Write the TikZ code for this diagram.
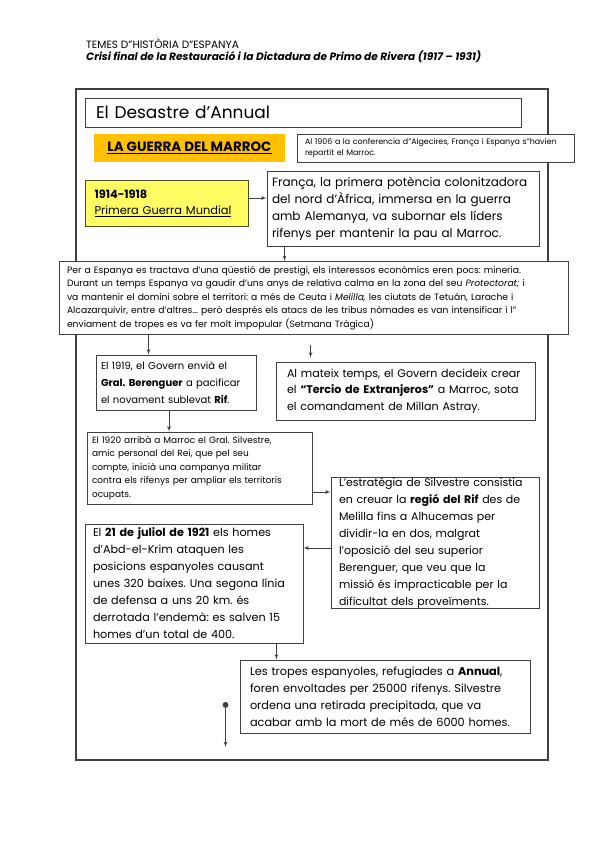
\documentclass[tikz,border=0pt]{standalone}
\usepackage{fontspec}
\setmainfont{Poppins}
\usepackage{tikz}
\usetikzlibrary{shapes, arrows}
\definecolor{orangebox}{RGB}{255,192,0}
\definecolor{yellowbox}{RGB}{255,252,100}
\definecolor{boxline}{RGB}{64,64,64}
\tikzstyle{infobox} = [rectangle, draw=boxline, line width=0.9pt, fill=white, align=left, inner ysep=0pt]
\tikzstyle{datebox} = [rectangle, draw=black!70!yellowbox, line width=0.9pt, fill=yellowbox, align=left, inner ysep=0pt]
\tikzstyle{headline} = [anchor=west, inner sep=0pt]
\tikzstyle{line} = [draw=boxline, -latex', line width=0.8pt]
\frenchspacing

\begin{document}
\begin{tikzpicture}[x=1pt, y=-1pt]
  \fill [white] (0,0) rectangle (599,848);
  \useasboundingbox (0,0) rectangle (599,848);
  %% header
  \node [headline, font=\fontsize{10.6}{12}\selectfont] (temes) at (86,44) {TEMES D"HISTÒRIA D"ESPANYA};
  \node [headline, font=\fontsize{10.6}{12}\selectfont\bfseries\itshape] (crisi) at (86,57) {Crisi final de la Restauració i la Dictadura de Primo de Rivera (1917 – 1931)};
  % outer frame
  \draw [boxline, line width=1.3pt] (76,89) rectangle (548,760);
  %% nodes
  % title and topic
  \node [infobox, inner xsep=11pt, text width=414pt, minimum height=29pt, font=\fontsize{17}{20}\selectfont] (desastre) at (303,112.5) {El Desastre d’Annual};
  \node [rectangle, fill=orangebox, minimum width=191pt, minimum height=28pt, font=\fontsize{13.5}{16}\selectfont\bfseries] (guerra) at (189.5,148) {\underline{LA GUERRA DEL MARROC}};
  \node [infobox, inner xsep=8pt, text width=261pt, minimum height=28pt, font=\fontsize{7.9}{11}\selectfont] (algecires) at (435.5,148) {Al 1906 a la conferencia d"Algecires, França i Espanya s"havien\\ repartit el Marroc.};
  % first world war
  \node [datebox, inner xsep=9pt, text width=145pt, minimum height=46pt, font=\fontsize{11.4}{16}\selectfont] (guerra1914) at (167,203) {\textbf{1914-1918}\\ \underline{Primera Guerra Mundial}};
  \node [infobox, inner xsep=5pt, text width=262pt, minimum height=75pt, font=\fontsize{12}{17}\selectfont] (franca) at (403,208.5) {França, la primera potència colonitzadora\\ del nord d’Àfrica, immersa en la guerra\\ amb Alemanya, va subornar els líders\\ rifenys per mantenir la pau al Marroc.};
  % protectorate
  \node [infobox, inner xsep=8pt, text width=493pt, minimum height=73pt, font=\fontsize{9.2}{13.5}\selectfont] (espanya) at (313.5,298) {Per a Espanya es tractava d'una qüestió de prestigi, els interessos econòmics eren pocs: mineria.\\ Durant un temps Espanya  va gaudir d'uns anys de relativa calma en la zona del seu \textit{Protectorat;} i\\ va mantenir el domini sobre el territori: a més de Ceuta i \textit{Melilla,} les ciutats de Tetuán, Larache i\\ Alcazarquivir, entre d'altres... però després els atacs de les tribus nòmades es van intensificar i l"\\ enviament de tropes es va fer molt impopular (Setmana Tràgica)};
  % government
  \node [infobox, inner xsep=5pt, text width=150pt, minimum height=55pt, font=\fontsize{10}{17}\selectfont] (govern1919) at (176,382.5) {El 1919, el Govern envià el\\ \textbf{Gral. Berenguer} a pacificar\\ el novament sublevat \textbf{Rif}.};
  \node [infobox, inner xsep=11pt, text width=237pt, minimum height=58pt, font=\fontsize{11.1}{16.5}\selectfont] (tercio) at (405.5,391) {Al mateix temps, el Govern decideix crear\\ el \textbf{“Tercio de Extranjeros”} a Marroc, sota\\ el comandament de Millan Astray.};
  % silvestre
  \node [infobox, inner xsep=5pt, text width=215pt, minimum height=72pt, font=\fontsize{9}{13.5}\selectfont] (silvestre1920) at (199.5,468) {El 1920 arribà a Marroc el Gral. Silvestre,\\ amic personal del Rei, que pel seu\\ compte, inicià una campanya militar\\ contra els rifenys per ampliar els territoris\\ ocupats.};
  \node [infobox, inner xsep=8pt, text width=192pt, minimum height=128pt, font=\fontsize{11}{17}\selectfont] (estrategia) at (435,543) {L’estratègia de Silvestre consistia\\ en creuar la \textbf{regió del Rif} des de\\ Melilla fins a Alhucemas per\\ dividir-la en dos, malgrat\\ l’oposició del seu superior\\ Berenguer, que veu que la\\ missió és impracticable per la\\ dificultat dels proveïments.};
  % annual
  \node [infobox, inner xsep=8pt, text width=202pt, minimum height=119pt, font=\fontsize{11.2}{17}\selectfont] (juliol1921) at (194,583.5) {El \textbf{21 de juliol de 1921} els homes\\ d’Abd-el-Krim ataquen les\\ posicions espanyoles causant\\ unes 320 baixes. Una segona línia\\ de defensa a uns 20 km. és\\ derrotada l’endemà: es salven 15\\ homes d’un total de 400.};
  \node [infobox, inner xsep=10pt, text width=270pt, minimum height=73pt, font=\fontsize{11.3}{17}\selectfont] (annual) at (385,696.5) {Les tropes espanyoles, refugiades a \textbf{Annual},\\ foren envoltades per 25000 rifenys. Silvestre\\ ordena una retirada precipitada, que va\\ acabar amb la mort de més de 6000 homes.};
  %% edges
  \coordinate (a1) at ([xshift=18pt]franca.south west);
  \coordinate (a2) at ([xshift=53pt]govern1919.north west);
  \coordinate (a3) at ([xshift=-7pt]govern1919.south);
  \coordinate (a4) at ([yshift=-24pt]silvestre1920.east);
  \coordinate (a5) at ([yshift=-5pt]estrategia.west);
  \coordinate (a6) at ([xshift=-27pt]juliol1921.south east);
  \coordinate (t1) at ([xshift=35pt, yshift=17pt]tercio.north west);
  \coordinate (t2) at ([xshift=35pt, yshift=4pt]tercio.north west);
  \coordinate (dotstart) at ([xshift=-14pt, yshift=-5.5pt]annual.west);
  \coordinate (dotend) at ([yshift=-45pt]dotstart);
  % war to france, france to spain
  \path [line] ([yshift=5pt]guerra1914.east) -- ([yshift=5pt]guerra1914.east -| franca.west);
  \path [line] (a1) -- (a1 |- espanya.north);
  % spain to government
  \path [line] (espanya.south -| a2) -- (a2);
  \path [line] (t1) -- (t2);
  \path [line] (a3) -- (a3 |- silvestre1920.north);
  % silvestre to the defeat
  \path [line] (a4) -- (a4 -| estrategia.west);
  \path [line] (a5) -- (a5 -| juliol1921.east);
  \path [line] (a6) -- (a6 |- annual.north);
  \path [line, *-latex'] (dotstart) -- (dotend);
\end{tikzpicture}
\end{document}
